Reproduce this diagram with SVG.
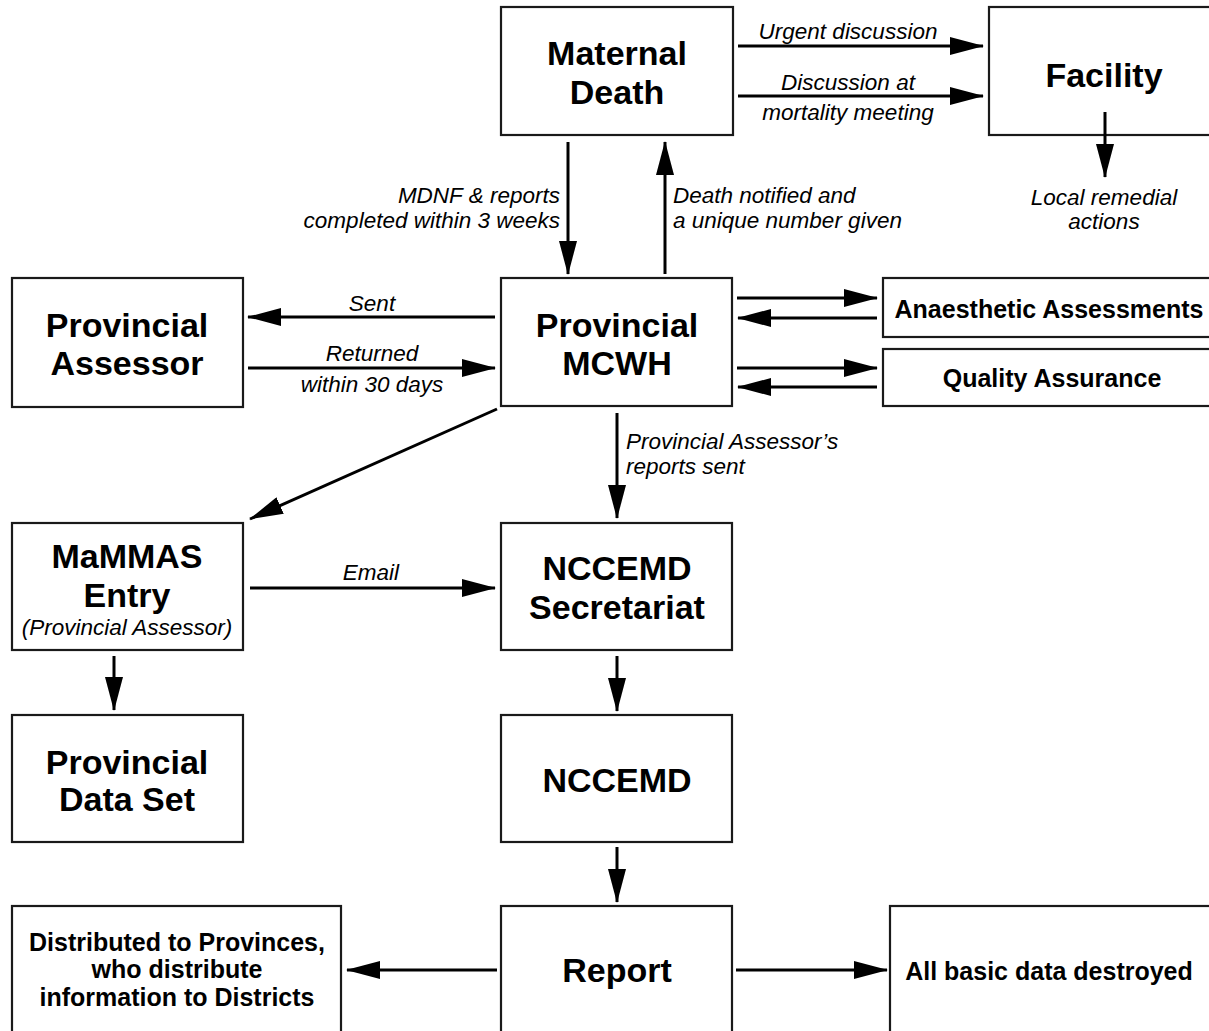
<svg xmlns="http://www.w3.org/2000/svg" width="1209" height="1031" viewBox="0 0 1209 1031">
<style>
.box{fill:#fff;stroke:#1a1a1a;stroke-width:2.2}
.t{font-family:"Liberation Sans",Arial,sans-serif;font-weight:bold;font-size:34px;fill:#000;text-anchor:middle}
.s{font-family:"Liberation Sans",Arial,sans-serif;font-weight:bold;font-size:25px;fill:#000;text-anchor:middle}
.i{font-family:"Liberation Sans",Arial,sans-serif;font-style:italic;font-size:22.5px;fill:#000}
.c{text-anchor:middle}
.r{text-anchor:end}
.a{stroke:#000;stroke-width:3;fill:none;marker-end:url(#ah)}
</style>
<defs>
<marker id="ah" markerUnits="userSpaceOnUse" markerWidth="34" markerHeight="18" refX="33" refY="9" orient="auto">
<path d="M0,0 L34,9 L0,18 z" fill="#000"/>
</marker>
</defs>
<rect width="1209" height="1031" fill="#fff"/>

<g id="maternal-death"><rect class="box" x="501" y="7" width="232" height="128"/><text class="t" x="617" y="65">Maternal</text><text class="t" x="617" y="104">Death</text></g>
<g id="facility"><rect class="box" x="989" y="7" width="240" height="128"/><text class="t" x="1104" y="87">Facility</text></g>
<g id="provincial-assessor"><rect class="box" x="12" y="278" width="231" height="129"/><text class="t" x="127" y="337">Provincial</text><text class="t" x="127" y="375">Assessor</text></g>
<g id="provincial-mcwh"><rect class="box" x="501" y="278" width="231" height="128"/><text class="t" x="617" y="337">Provincial</text><text class="t" x="617" y="375">MCWH</text></g>
<g id="anaesthetic"><rect class="box" x="883" y="278" width="340" height="59"/><text class="s" x="1049" y="318">Anaesthetic Assessments</text></g>
<g id="quality"><rect class="box" x="883" y="349" width="340" height="57"/><text class="s" x="1052" y="387">Quality Assurance</text></g>
<g id="mammas"><rect class="box" x="12" y="523" width="231" height="127"/><text class="t" x="127" y="568">MaMMAS</text><text class="t" x="127" y="607">Entry</text><text class="i c" x="127" y="635">(Provincial Assessor)</text></g>
<g id="nccemd-secretariat"><rect class="box" x="501" y="523" width="231" height="127"/><text class="t" x="617" y="580">NCCEMD</text><text class="t" x="617" y="619">Secretariat</text></g>
<g id="provincial-data-set"><rect class="box" x="12" y="715" width="231" height="127"/><text class="t" x="127" y="774">Provincial</text><text class="t" x="127" y="811">Data Set</text></g>
<g id="nccemd"><rect class="box" x="501" y="715" width="231" height="127"/><text class="t" x="617" y="792">NCCEMD</text></g>
<g id="distributed"><rect class="box" x="12" y="906" width="329" height="140"/><text class="s" x="177" y="951">Distributed to Provinces,</text><text class="s" x="177" y="978">who distribute</text><text class="s" x="177" y="1006">information to Districts</text></g>
<g id="report"><rect class="box" x="501" y="906" width="231" height="140"/><text class="t" x="617" y="982">Report</text></g>
<g id="destroyed"><rect class="box" x="890" y="906" width="340" height="140"/><text class="s" x="1049" y="980">All basic data destroyed</text></g>

<g id="connectors">
<line class="a" x1="738" y1="46" x2="983" y2="46"/>
<line class="a" x1="738" y1="96" x2="983" y2="96"/>
<line class="a" x1="1105" y1="112" x2="1105" y2="177"/>
<line class="a" x1="568" y1="142" x2="568" y2="274"/>
<line class="a" x1="665" y1="274" x2="665" y2="142"/>
<line class="a" x1="495" y1="317" x2="248" y2="317"/>
<line class="a" x1="248" y1="368" x2="495" y2="368"/>
<line class="a" x1="737" y1="298" x2="877" y2="298"/>
<line class="a" x1="877" y1="318" x2="738" y2="318"/>
<line class="a" x1="737" y1="368" x2="877" y2="368"/>
<line class="a" x1="877" y1="387" x2="738" y2="387"/>
<line class="a" x1="497" y1="409" x2="250" y2="519"/>
<line class="a" x1="617" y1="413" x2="617" y2="518"/>
<line class="a" x1="250" y1="588" x2="495" y2="588"/>
<line class="a" x1="114" y1="656" x2="114" y2="710"/>
<line class="a" x1="617" y1="656" x2="617" y2="711"/>
<line class="a" x1="617" y1="847" x2="617" y2="902"/>
<line class="a" x1="497" y1="970" x2="347" y2="970"/>
<line class="a" x1="736" y1="970" x2="887" y2="970"/>
<text class="i c" x="848" y="39">Urgent discussion</text>
<text class="i c" x="848" y="90">Discussion at</text>
<text class="i c" x="848" y="120">mortality meeting</text>
<text class="i c" x="1104" y="205">Local remedial</text>
<text class="i c" x="1104" y="229">actions</text>
<text class="i r" x="560" y="203">MDNF &amp; reports</text>
<text class="i r" x="560" y="228">completed within 3 weeks</text>
<text class="i" x="673" y="203">Death notified and</text>
<text class="i" x="673" y="228">a unique number given</text>
<text class="i c" x="372" y="311">Sent</text>
<text class="i c" x="372" y="361">Returned</text>
<text class="i c" x="372" y="392">within 30 days</text>
<text class="i" x="626" y="449">Provincial Assessor’s</text>
<text class="i" x="626" y="474">reports sent</text>
<text class="i c" x="371" y="580">Email</text>
</g>
</svg>
